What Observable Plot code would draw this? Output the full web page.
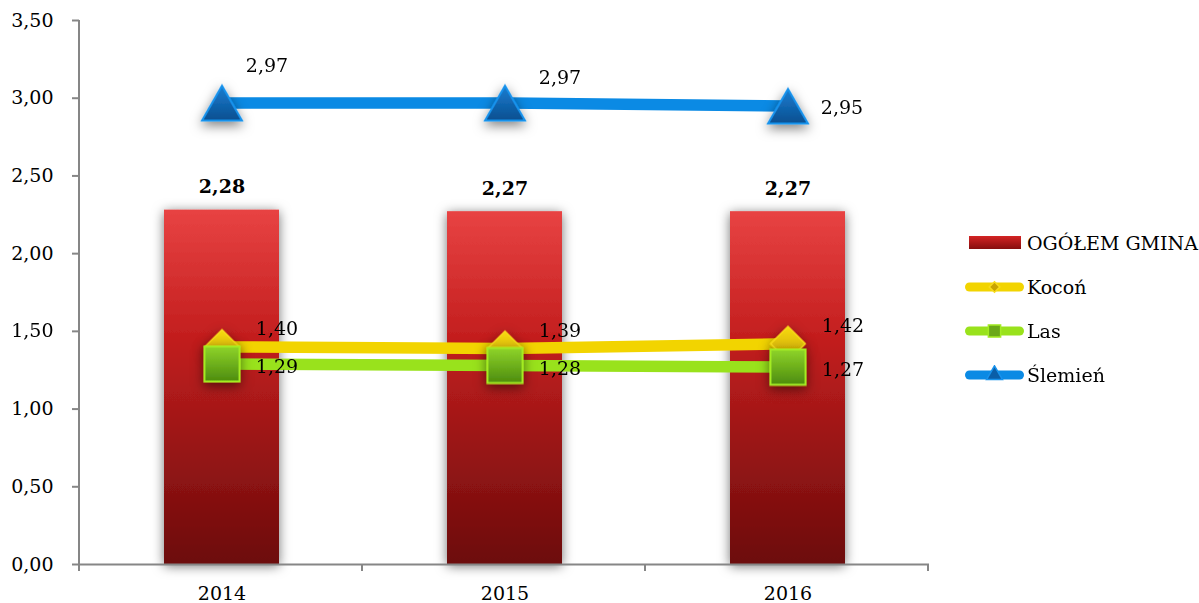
<!DOCTYPE html>
<html><head><meta charset="utf-8">
<script src="https://cdn.jsdelivr.net/npm/d3@7"></script>
<script src="https://cdn.jsdelivr.net/npm/@observablehq/plot@0.6"></script>
<style>
body{margin:0;background:#fff;}
#wrap{position:relative;width:1199px;height:603px;font-family:"DejaVu Serif",serif;}
#legend{position:absolute;left:965px;top:221px;font-size:19px;color:#000;}
.row{height:44px;display:flex;align-items:center;}
.row svg{margin-right:3px;}
</style></head><body><div id="wrap"></div>
<script>
const years = ["2014", "2015", "2016"];
const ogolem = [2.28, 2.27, 2.27];
const kocon = [1.40, 1.39, 1.42];
const las = [1.29, 1.28, 1.27];
const slemien = [2.97, 2.97, 2.95];
const yTicks = [0, 0.5, 1, 1.5, 2, 2.5, 3, 3.5];
const seriesNames = ["OGÓŁEM GMINA", "Kocoń", "Las", "Ślemień"];

const fmt = v => d3.format(".2f")(v).replace(".", ",");
const mk = arr => years.map((y, i) => ({year: y, value: arr[i], i}));
const B = mk(ogolem), K = mk(kocon), L = mk(las), S = mk(slemien);

// label placement (style only)
const sOff = [[45, -37], [55, -25], [54, 2]];

const marks = [
  Plot.barY(B, {x: "year", y: "value", fill: "url(#barGrad)"}),
  Plot.ruleY([0], {stroke: "#868686", strokeWidth: 2}),
  Plot.text(B, {x: "year", y: "value", text: d => fmt(d.value), dy: -23, fontWeight: "bold", fill: "#000"}),
  Plot.line(K, {x: "year", y: "value", stroke: "#f2d400", strokeWidth: 11.5}),
  Plot.dot(K, {x: "year", y: "value", symbol: "diamond2", r: 15.5, fill: "url(#yelGrad)", stroke: "#f8dc1c", strokeWidth: 1.5}),
  Plot.line(L, {x: "year", y: "value", stroke: "#99e21c", strokeWidth: 11.5}),
  Plot.dot(L, {x: "year", y: "value", symbol: "square", r: 19.8, fill: "url(#grnGrad)", stroke: "#a4ec24", strokeWidth: 2}),
  Plot.line(S, {x: "year", y: "value", stroke: "#0b8ae4", strokeWidth: 11.5}),
  Plot.dot(S, {x: "year", y: "value", symbol: "triangle", r: 14.8, dy: 6, fill: "url(#bluGrad)", stroke: "#1892ec", strokeWidth: 2}),
  Plot.text(K, {x: "year", y: "value", text: d => fmt(d.value), dx: 55, dy: -18, fill: "#000"}),
  Plot.text(L, {x: "year", y: "value", text: d => fmt(d.value), dx: 55, dy: 3, fill: "#000"}),
  ...sOff.map((o, j) => Plot.text(S.filter(d => d.i === j), {x: "year", y: "value", text: d => fmt(d.value), dx: o[0], dy: o[1], fill: "#000"})),
  Plot.axisY({ticks: yTicks, tickFormat: fmt, tickSize: 7, tickPadding: 19, stroke: "#868686", strokeWidth: 2, fill: "#000", label: null}),
  Plot.axisX({tickSize: 0, tickPadding: 22, fill: "#000", label: null})
];

const plot = Plot.plot({
  width: 1199, height: 603,
  marginLeft: 79, marginRight: 270, marginTop: 20, marginBottom: 39,
  style: {fontFamily: "DejaVu Serif, serif", fontSize: "19px", color: "#000", background: "transparent", overflow: "visible"},
  x: {type: "band", domain: years, paddingInner: 0.594, paddingOuter: 0.297},
  y: {domain: [0, 3.5]},
  marks
});

const svg = d3.select(plot);
const defs = svg.insert("defs", ":first-child");
function grad(id, stops, horiz) {
  const g = defs.append("linearGradient").attr("id", id)
    .attr("x1", 0).attr("y1", 0).attr("x2", horiz ? 1 : 0).attr("y2", horiz ? 0 : 1);
  stops.forEach(([o, c]) => g.append("stop").attr("offset", o).attr("stop-color", c));
}
grad("barGrad", [[0, "#e84343"], [0.35, "#c41f1f"], [1, "#6c0b0b"]]);
grad("yelGrad", [[0, "#f8da10"], [1, "#c9a400"]]);
grad("grnGrad", [[0, "#8fd42a"], [1, "#4d8c0e"]]);
grad("bluGrad", [[0, "#1a7ed2"], [1, "#0a4f90"]]);
const f1 = defs.append("filter").attr("id", "barShadow").attr("x", "-40%").attr("y", "-20%").attr("width", "180%").attr("height", "140%");
f1.append("feDropShadow").attr("dx", 0).attr("dy", 2).attr("stdDeviation", 6).attr("flood-color", "#000").attr("flood-opacity", 0.55);
const f2 = defs.append("filter").attr("id", "dotShadow").attr("x", "-100%").attr("y", "-100%").attr("width", "300%").attr("height", "300%");
f2.append("feDropShadow").attr("dx", 0).attr("dy", 4).attr("stdDeviation", 6).attr("flood-color", "#000").attr("flood-opacity", 0.5);

svg.selectAll('g[aria-label="bar"] rect').attr("filter", "url(#barShadow)");
svg.selectAll('g[aria-label="dot"]').attr("filter", "url(#dotShadow)");

// y axis line and category boundary ticks, from the library's scales
const xs = plot.scale("x"), ys = plot.scale("y");
const x0 = xs.range[0], step = xs.step, yb = ys.apply(0), yt = ys.apply(3.5);
const ax = svg.append("g").attr("stroke", "#868686").attr("stroke-width", 2);
ax.append("line").attr("x1", x0).attr("x2", x0).attr("y1", yt).attr("y2", yb);
for (let k = 0; k <= years.length; k++) {
  const xx = x0 + k * step;
  ax.append("line").attr("x1", xx).attr("x2", xx).attr("y1", yb).attr("y2", yb + 7);
}
const ruleG = svg.select('g[aria-label="rule"]').node();
ruleG.parentNode.insertBefore(ax.node(), ruleG.nextSibling);

const wrap = document.getElementById("wrap");
wrap.appendChild(plot);

// legend
const legend = d3.select(wrap).append("div").attr("id", "legend");
const sw = [
  {type: "bar"},
  {type: "line", color: "#f2d400", sym: d3.symbolDiamond2, fill: "#c9a400", stroke: "#f8dc1c", size: 70},
  {type: "line", color: "#99e21c", sym: d3.symbolSquare, fill: "#6aa818", stroke: "#a4ec24", size: 150},
  {type: "line", color: "#0b8ae4", sym: d3.symbolTriangle, fill: "#0a5ea8", stroke: "#1892ec", size: 110}
];
seriesNames.forEach((name, i) => {
  const row = legend.append("div").attr("class", "row");
  const s = row.append("svg").attr("width", 59).attr("height", 20);
  const o = sw[i];
  if (o.type === "bar") {
    const lg = s.append("defs").append("linearGradient").attr("id", "lgBar").attr("x1", 0).attr("y1", 0).attr("x2", 0).attr("y2", 1);
    lg.append("stop").attr("offset", 0).attr("stop-color", "#d42424");
    lg.append("stop").attr("offset", 1).attr("stop-color", "#860e0e");
    s.append("rect").attr("x", 4).attr("y", 3).attr("width", 52).attr("height", 13).attr("fill", "url(#lgBar)");
  } else {
    s.append("line").attr("x1", 4.5).attr("x2", 54.5).attr("y1", 10).attr("y2", 10)
      .attr("stroke", o.color).attr("stroke-width", 9).attr("stroke-linecap", "round");
    s.append("path").attr("d", d3.symbol(o.sym, o.size)()).attr("transform", "translate(29.5,10)")
      .attr("fill", o.fill).attr("stroke", o.stroke).attr("stroke-width", 1.5);
  }
  row.append("span").text(name);
});
</script>
</body></html>
